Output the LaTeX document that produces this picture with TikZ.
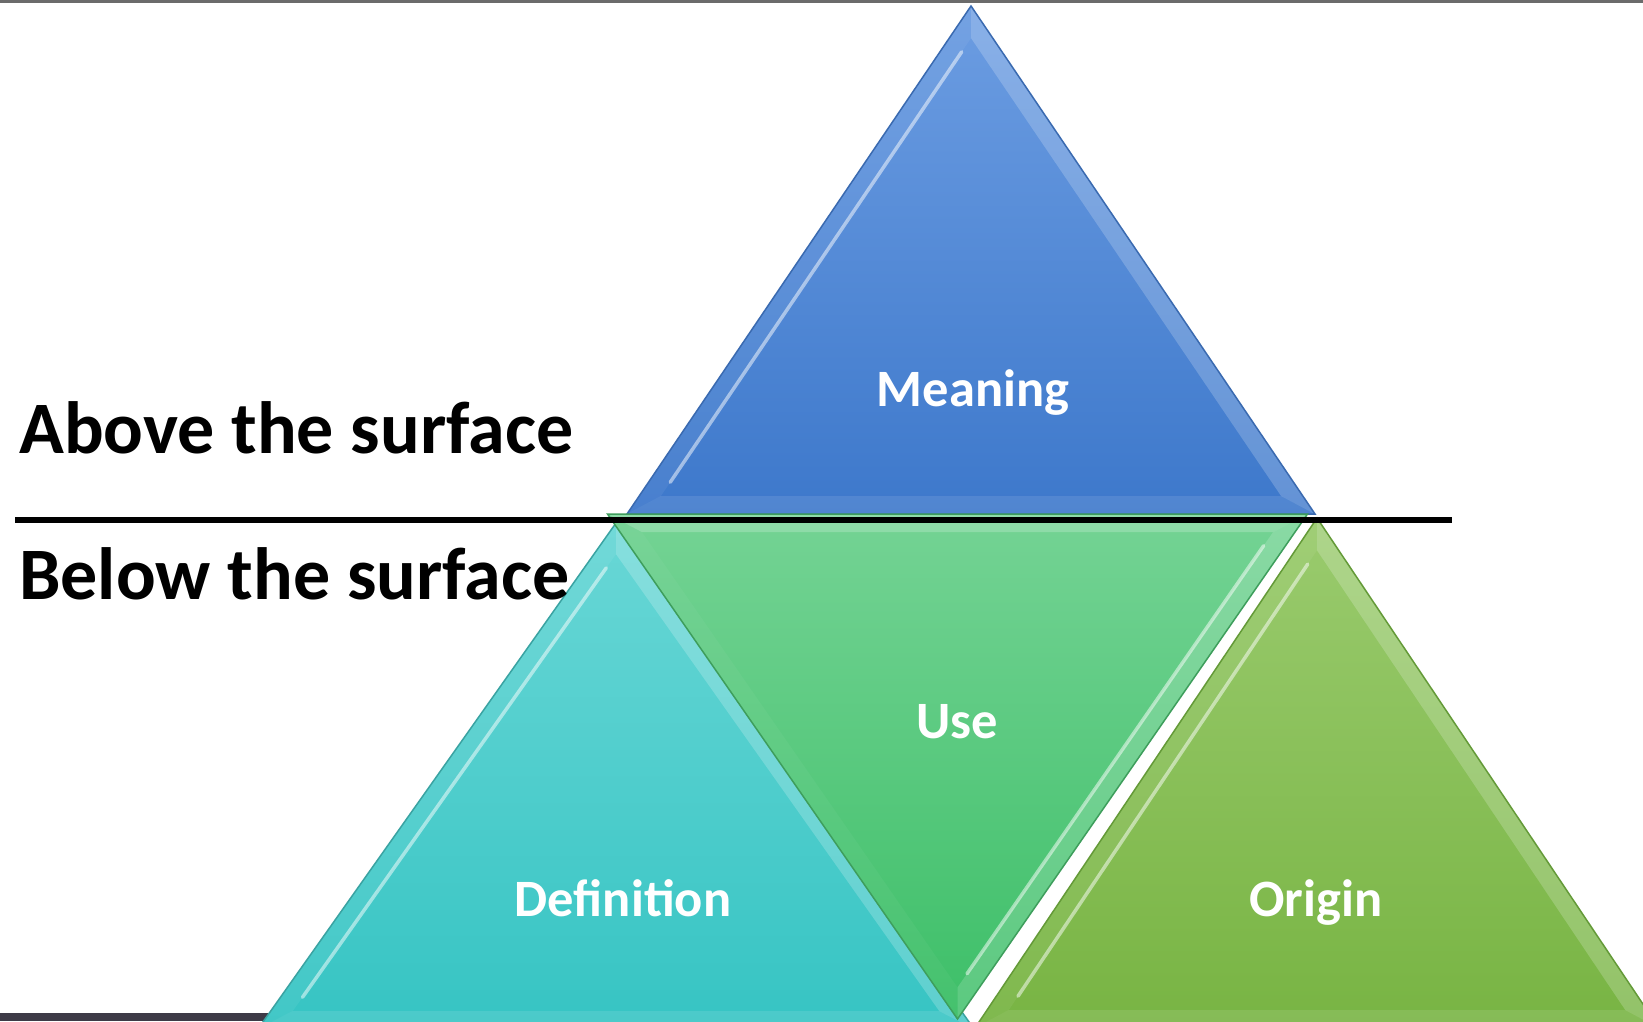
\documentclass[tikz,border=0pt]{standalone}
\usepackage{fontspec}
\setmainfont{Carlito}
\usetikzlibrary{calc}
\definecolor{topbar}{HTML}{6B6B6B}
\definecolor{darkbar}{HTML}{3E3B47}
\definecolor{mTop}{HTML}{6C9DE2}\definecolor{mBot}{HTML}{3D78CB}\definecolor{mEdge}{HTML}{3A6AB0}
\definecolor{uTop}{HTML}{74D394}\definecolor{uBot}{HTML}{3DBF68}\definecolor{uEdge}{HTML}{3E9E5C}
\definecolor{dTop}{HTML}{69D7D6}\definecolor{dBot}{HTML}{36C4C3}\definecolor{dEdge}{HTML}{3AA3A2}
\definecolor{oTop}{HTML}{9ACB6E}\definecolor{oBot}{HTML}{78B443}\definecolor{oEdge}{HTML}{649A38}
\tikzset{
  sidetext/.style={font=\bfseries\fontsize{74bp}{90bp}\selectfont, text=black, inner sep=0pt, anchor=base west},
  trilabel/.style={font=\bfseries\fontsize{52.5bp}{60bp}\selectfont, text=white, inner sep=0pt, anchor=base},
  surface/.style={line width=6bp, black},
}
% #1 name, #2 apex x, #3 apex y, #4 base y, #5 half width, #6 inset
\newcommand\mktri[6]{%
  \pgfmathsetmacro\hh{abs(#4-#3)/100}%
  \pgfmathsetmacro\ww{#5/100}%
  \pgfmathsetmacro\rr{100*\ww*\hh/(\ww+sqrt(\ww*\ww+\hh*\hh))}%
  \pgfmathsetmacro\sg{sign(#4-#3)}%
  \pgfmathsetmacro\iy{#4-\sg*\rr}%
  \pgfmathsetmacro\kk{(\rr-#6)/\rr}%
  \coordinate (#1-A) at (#2,#3);
  \coordinate (#1-B) at (#2-#5,#4);
  \coordinate (#1-C) at (#2+#5,#4);
  \coordinate (#1-I) at (#2,\iy);
  \coordinate (#1-a) at ($(#1-I)!\kk!(#1-A)$);
  \coordinate (#1-b) at ($(#1-I)!\kk!(#1-B)$);
  \coordinate (#1-c) at ($(#1-I)!\kk!(#1-C)$);
}
% #1 name, #2 top col, #3 bottom col, #4 edge col, #5 left op, #6 right op, #7 base op, #8 highlight side (b or c)
\newcommand\drawtri[8]{%
  \shade[top color=#2, bottom color=#3] (#1-A) -- (#1-B) -- (#1-C) -- cycle;
  \fill[white, fill opacity=#5] (#1-A) -- (#1-B) -- (#1-b) -- (#1-a) -- cycle;
  \fill[white, fill opacity=#6] (#1-A) -- (#1-C) -- (#1-c) -- (#1-a) -- cycle;
  \fill[white, fill opacity=#7] (#1-B) -- (#1-C) -- (#1-c) -- (#1-b) -- cycle;
  \draw[white, opacity=.5, line width=3.5bp, line cap=round] ($(#1-a)!.03!(#1-#8)$) -- ($(#1-a)!.97!(#1-#8)$);
  \draw[#4, line width=1.5bp, line join=miter] (#1-A) -- (#1-B) -- (#1-C) -- cycle;
}
\begin{document}
\begin{tikzpicture}[x=1bp,y=-1bp]
\useasboundingbox (0,0) rectangle (1643,1021);
\begin{scope}
\clip (0,0) rectangle (1643,1021);
\fill[white] (0,0) rectangle (1643,1021);
\fill[topbar] (0,0) rectangle (1643,3);
\fill[darkbar] (0,1013) rectangle (400,1021);
\mktri{M}{971}{6}{514}{344}{18}
\mktri{D}{616}{523}{1029}{358}{18}
\mktri{O}{1317}{518}{1028}{342}{18}
\mktri{U}{957.5}{1019}{514}{350}{18}
\drawtri{M}{mTop}{mBot}{mEdge}{0.06}{0.2}{0.1}{b}
\drawtri{D}{dTop}{dBot}{dEdge}{0.06}{0.2}{0.1}{b}
\drawtri{O}{oTop}{oBot}{oEdge}{0.06}{0.2}{0.1}{b}
\drawtri{U}{uTop}{uBot}{uEdge}{0.04}{0.16}{0.2}{c}
\end{scope}
\coordinate (lineL) at (15,520);
\coordinate (lineR) at (1452,520);
\draw[surface] (lineL) -- (lineR);
\node[sidetext] (above) at (19,453) {Above the surface};
\node[sidetext] (below) at (19,599) {Below the surface};
\node[trilabel] (meaning) at (973,406) {Meaning};
\node[trilabel] (use) at (957,738) {Use};
\node[trilabel] (definition) at (623,916) {Definition};
\node[trilabel] (origin) at (1316,916) {Origin};
\end{tikzpicture}
\end{document}
